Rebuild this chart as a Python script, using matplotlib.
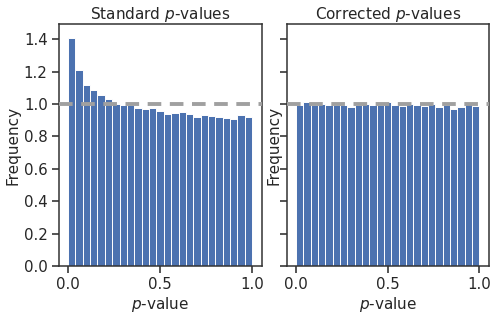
import numpy as np
import matplotlib
matplotlib.use("Agg")
import matplotlib.pyplot as plt
import seaborn as sns

sns.set_style("ticks")
plt.rcParams['font.family'] = ['DejaVu Sans']

# bin edges: 25 bins on [0, 1]
bin_left = np.arange(25) * 0.04
bin_width = 0.04

standard_freq = [1.41, 1.21, 1.12, 1.085, 1.056, 1.029, 1.0, 0.996, 0.994, 0.977,
                 0.967, 0.973, 0.957, 0.940, 0.942, 0.948, 0.940, 0.920, 0.932, 0.924,
                 0.920, 0.913, 0.907, 0.932, 0.920]
corrected_freq = [0.994, 1.014, 0.996, 1.002, 0.994, 0.994, 0.996, 0.984, 0.994, 1.0,
                  0.993, 0.994, 1.012, 0.996, 0.986, 0.997, 0.996, 0.988, 0.997, 0.981,
                  0.994, 0.971, 0.979, 1.01, 0.99]

titles = ['Standard $p$-values', 'Corrected $p$-values']
bar_color = '#4c72b0'

fig = plt.figure(figsize=(4.98, 3.17), dpi=100)
ax1 = fig.add_axes([0.118, 0.161, 0.408, 0.763])
ax2 = fig.add_axes([0.576, 0.161, 0.406, 0.763], sharey=ax1)

for ax, freq, title in zip([ax1, ax2], [standard_freq, corrected_freq], titles):
    ax.bar(bin_left, freq, width=bin_width, align='edge', color=bar_color,
           edgecolor='white', linewidth=0.7)
    ax.axhline(1.0, color='#a0a0a0', lw=2.8, ls=(0, (3.5, 2.2)), zorder=3)
    ax.set_title(title, fontsize=11, pad=4, color='#262626')
    ax.set_xlabel('$p$-value', fontsize=11, labelpad=2, color='#262626')
    ax.set_ylabel('Frequency', fontsize=11, labelpad=3, color='#262626')
    ax.set_xlim(-0.05, 1.053)
    ax.set_xticks([0.0, 0.5, 1.0])
    ax.tick_params(labelsize=10.8, length=5, width=1.1, pad=3, labelcolor='#262626')
    for sp in ax.spines.values():
        sp.set_linewidth(1.1)
        sp.set_color('#333333')

ax1.set_ylim(0, 1.493)
ax1.set_yticks(np.arange(0, 1.41, 0.2))
ax1.yaxis.set_label_coords(-0.19, 0.5)
ax2.tick_params(labelleft=False)
ax2.yaxis.set_label_coords(-0.025, 0.5)

fig.savefig('out.png', dpi=100)
